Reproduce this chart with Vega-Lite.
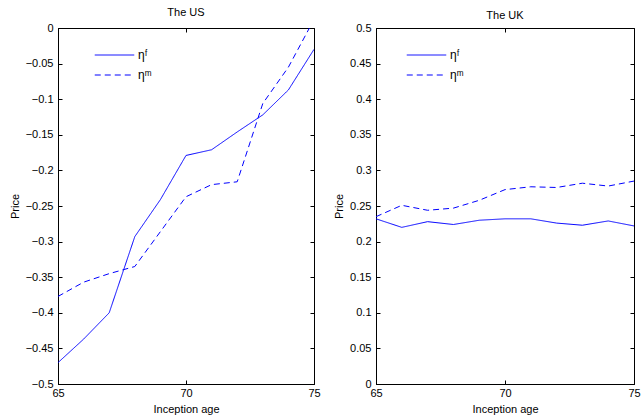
{
  "$schema": "https://vega.github.io/schema/vega-lite/v6.json",
  "padding": {"left": 8, "top": 6, "right": 5, "bottom": 2},
  "datasets": {
    "d": [
      {"country": "US", "series": "ηᶠ", "age": 65, "price": -0.470},
      {"country": "US", "series": "ηᶠ", "age": 66, "price": -0.437},
      {"country": "US", "series": "ηᶠ", "age": 67, "price": -0.400},
      {"country": "US", "series": "ηᶠ", "age": 68, "price": -0.293},
      {"country": "US", "series": "ηᶠ", "age": 69, "price": -0.241},
      {"country": "US", "series": "ηᶠ", "age": 70, "price": -0.179},
      {"country": "US", "series": "ηᶠ", "age": 71, "price": -0.171},
      {"country": "US", "series": "ηᶠ", "age": 72, "price": -0.146},
      {"country": "US", "series": "ηᶠ", "age": 73, "price": -0.122},
      {"country": "US", "series": "ηᶠ", "age": 74, "price": -0.087},
      {"country": "US", "series": "ηᶠ", "age": 75, "price": -0.030},
      {"country": "US", "series": "ηᵐ", "age": 65, "price": -0.377},
      {"country": "US", "series": "ηᵐ", "age": 66, "price": -0.357},
      {"country": "US", "series": "ηᵐ", "age": 67, "price": -0.345},
      {"country": "US", "series": "ηᵐ", "age": 68, "price": -0.335},
      {"country": "US", "series": "ηᵐ", "age": 69, "price": -0.286},
      {"country": "US", "series": "ηᵐ", "age": 70, "price": -0.237},
      {"country": "US", "series": "ηᵐ", "age": 71, "price": -0.220},
      {"country": "US", "series": "ηᵐ", "age": 72, "price": -0.216},
      {"country": "US", "series": "ηᵐ", "age": 73, "price": -0.106},
      {"country": "US", "series": "ηᵐ", "age": 74, "price": -0.055},
      {"country": "US", "series": "ηᵐ", "age": 75, "price": 0.012},
      {"country": "UK", "series": "ηᶠ", "age": 65, "price": 0.232},
      {"country": "UK", "series": "ηᶠ", "age": 66, "price": 0.220},
      {"country": "UK", "series": "ηᶠ", "age": 67, "price": 0.228},
      {"country": "UK", "series": "ηᶠ", "age": 68, "price": 0.224},
      {"country": "UK", "series": "ηᶠ", "age": 69, "price": 0.230},
      {"country": "UK", "series": "ηᶠ", "age": 70, "price": 0.232},
      {"country": "UK", "series": "ηᶠ", "age": 71, "price": 0.232},
      {"country": "UK", "series": "ηᶠ", "age": 72, "price": 0.226},
      {"country": "UK", "series": "ηᶠ", "age": 73, "price": 0.223},
      {"country": "UK", "series": "ηᶠ", "age": 74, "price": 0.229},
      {"country": "UK", "series": "ηᶠ", "age": 75, "price": 0.222},
      {"country": "UK", "series": "ηᵐ", "age": 65, "price": 0.235},
      {"country": "UK", "series": "ηᵐ", "age": 66, "price": 0.251},
      {"country": "UK", "series": "ηᵐ", "age": 67, "price": 0.244},
      {"country": "UK", "series": "ηᵐ", "age": 68, "price": 0.247},
      {"country": "UK", "series": "ηᵐ", "age": 69, "price": 0.258},
      {"country": "UK", "series": "ηᵐ", "age": 70, "price": 0.273},
      {"country": "UK", "series": "ηᵐ", "age": 71, "price": 0.277},
      {"country": "UK", "series": "ηᵐ", "age": 72, "price": 0.276},
      {"country": "UK", "series": "ηᵐ", "age": 73, "price": 0.282},
      {"country": "UK", "series": "ηᵐ", "age": 74, "price": 0.278},
      {"country": "UK", "series": "ηᵐ", "age": 75, "price": 0.285}
    ]
  },
  "hconcat": [
    {
      "width": 256,
      "height": 356,
      "title": "The US",
      "data": {"name": "d"},
      "transform": [{"filter": "datum.country === 'US'"}],
      "layer": [
        {
          "mark": {"type": "line", "color": "#0000ff", "strokeWidth": 1, "clip": true},
          "encoding": {
            "x": {"field": "age", "type": "quantitative", "scale": {"domain": [65, 75], "nice": false},
                  "axis": {"orient": "bottom", "values": [65, 70, 75], "title": "Inception age", "labelPadding": 7, "titlePadding": 5}},
            "y": {"field": "price", "type": "quantitative", "scale": {"domain": [-0.5, 0], "nice": false},
                  "axis": {"orient": "left", "values": [-0.5, -0.45, -0.4, -0.35, -0.3, -0.25, -0.2, -0.15, -0.1, -0.05, 0], "format": ".2~f", "title": "Price", "labelPadding": 9, "titlePadding": 5}},
            "strokeDash": {"field": "series", "type": "nominal",
                  "scale": {"domain": ["ηᶠ", "ηᵐ"], "range": [[1, 0], [6, 4]]},
                  "legend": {"title": null, "orient": "none", "legendX": 36, "legendY": 17, "symbolType": "stroke", "symbolSize": 1560, "symbolStrokeWidth": 1, "symbolStrokeColor": "#0000ff", "labelFontSize": 12, "clipHeight": 20, "rowPadding": 0, "labelOffset": 3}}
          }
        },
        {
          "mark": {"type": "line", "opacity": 0},
          "encoding": {
            "x": {"field": "age", "type": "quantitative", "scale": {"domain": [65, 75], "nice": false},
                  "axis": {"orient": "top", "values": [65, 70, 75], "labels": false, "title": null, "domain": false}},
            "y": {"field": "price", "type": "quantitative", "scale": {"domain": [-0.5, 0], "nice": false},
                  "axis": {"orient": "right", "values": [-0.5, -0.45, -0.4, -0.35, -0.3, -0.25, -0.2, -0.15, -0.1, -0.05, 0], "labels": false, "title": null, "domain": false}},
            "detail": {"field": "series"}
          }
        }
      ],
      "resolve": {"axis": {"x": "independent", "y": "independent"}}
    },
    {
      "width": 258,
      "height": 356,
      "title": "The UK",
      "data": {"name": "d"},
      "transform": [{"filter": "datum.country === 'UK'"}],
      "layer": [
        {
          "mark": {"type": "line", "color": "#0000ff", "strokeWidth": 1, "clip": true},
          "encoding": {
            "x": {"field": "age", "type": "quantitative", "scale": {"domain": [65, 75], "nice": false},
                  "axis": {"orient": "bottom", "values": [65, 70, 75], "title": "Inception age", "labelPadding": 7, "titlePadding": 5}},
            "y": {"field": "price", "type": "quantitative", "scale": {"domain": [0, 0.5], "nice": false},
                  "axis": {"orient": "left", "values": [0, 0.05, 0.1, 0.15, 0.2, 0.25, 0.3, 0.35, 0.4, 0.45, 0.5], "format": ".2~f", "title": "Price", "labelPadding": 9, "titlePadding": 5}},
            "strokeDash": {"field": "series", "type": "nominal",
                  "scale": {"domain": ["ηᶠ", "ηᵐ"], "range": [[1, 0], [6, 4]]},
                  "legend": {"title": null, "orient": "none", "legendX": 30, "legendY": 17, "symbolType": "stroke", "symbolSize": 1560, "symbolStrokeWidth": 1, "symbolStrokeColor": "#0000ff", "labelFontSize": 12, "clipHeight": 20, "rowPadding": 0, "labelOffset": 3}}
          }
        },
        {
          "mark": {"type": "line", "opacity": 0},
          "encoding": {
            "x": {"field": "age", "type": "quantitative", "scale": {"domain": [65, 75], "nice": false},
                  "axis": {"orient": "top", "values": [65, 70, 75], "labels": false, "title": null, "domain": false}},
            "y": {"field": "price", "type": "quantitative", "scale": {"domain": [0, 0.5], "nice": false},
                  "axis": {"orient": "right", "values": [0, 0.05, 0.1, 0.15, 0.2, 0.25, 0.3, 0.35, 0.4, 0.45, 0.5], "labels": false, "title": null, "domain": false}},
            "detail": {"field": "series"}
          }
        }
      ],
      "resolve": {"axis": {"x": "independent", "y": "independent"}}
    }
  ],
  "spacing": 12,
  "resolve": {"scale": {"strokeDash": "independent"}, "legend": {"strokeDash": "independent"}},
  "config": {
    "font": "Liberation Sans",
    "view": {"stroke": "#000000", "strokeWidth": 1},
    "title": {"fontSize": 11, "fontWeight": "normal", "offset": 1, "color": "#000000"},
    "axis": {
      "grid": false,
      "tickSize": -4,
      "tickColor": "#000000",
      "domainColor": "#000000",
      "labelColor": "#000000",
      "titleColor": "#000000",
      "labelFontSize": 11,
      "titleFontSize": 11,
      "titleFontWeight": "normal",
      "labelFlush": false,
      "labelOverlap": false
    },
    "legend": {"labelColor": "#000000"}
  }
}
